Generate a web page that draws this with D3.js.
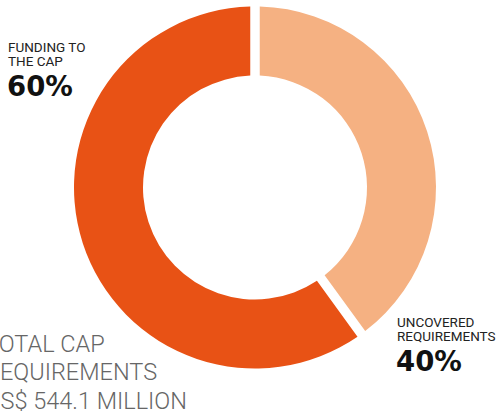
<!doctype html>
<html>
  <head>
    <style>
      body { margin: 0; background: #fff; overflow: hidden; }
      svg { display: block; font-family: Roboto, 'Noto Sans', sans-serif; }
      .lbl { fill: #222; font-size: 13.5px; }
      .pct { fill: #111; font-size: 27.5px; font-weight: bold; font-family: 'DejaVu Sans', sans-serif; }
      .total { fill: #666; font-size: 23.5px; font-weight: 300; }
    </style>
    <script src="https://d3js.org/d3.v7.min.js"></script>
  </head>
  <body>
    <svg id="chart" width="502" height="413"></svg>
    <script>
      // data
      const categories = ["UNCOVERED REQUIREMENTS", "FUNDING TO THE CAP"];
      const values = [40, 60];
      const colors = ["#F5B182", "#E85215"];
      const totalLines = ["TOTAL CAP", "REQUIREMENTS", "US$ 544.1 MILLION"];

      var svg = d3.select("#chart"),
        cx = 255, cy = 187.5,
        outerR = 181, innerR = 112;

      var pie = d3.pie().sort(null).value(function(d){ return d; });
      var arc = d3.arc()
        .innerRadius(innerR)
        .outerRadius(outerR)
        .padRadius(outerR)
        .padAngle(9.5 / outerR);

      var g = svg.append("g").attr("transform", "translate(" + cx + "," + cy + ")");
      g.selectAll("path")
        .data(pie(values))
        .enter().append("path")
        .attr("d", arc)
        .attr("fill", function(d, i){ return colors[i]; });

      // labels
      function label(x, y, lines, v) {
        var t = svg.append("text").attr("class", "lbl");
        lines.forEach(function(l, i){
          t.append("tspan").attr("x", x).attr("y", y + i * 14.3).text(l);
        });
        svg.append("text").attr("class", "pct")
          .attr("x", x - 1).attr("y", y + 44)
          .text(v + "%");
      }
      label(8, 51.7, ["FUNDING TO", "THE CAP"], values[1]);
      label(397, 326.5, ["UNCOVERED", "REQUIREMENTS"], values[0]);

      var tt = svg.append("text").attr("class", "total");
      totalLines.forEach(function(l, i){
        tt.append("tspan").attr("x", -15).attr("y", 352 + i * 28.3).text(l);
      });
    </script>
  </body>
</html>
